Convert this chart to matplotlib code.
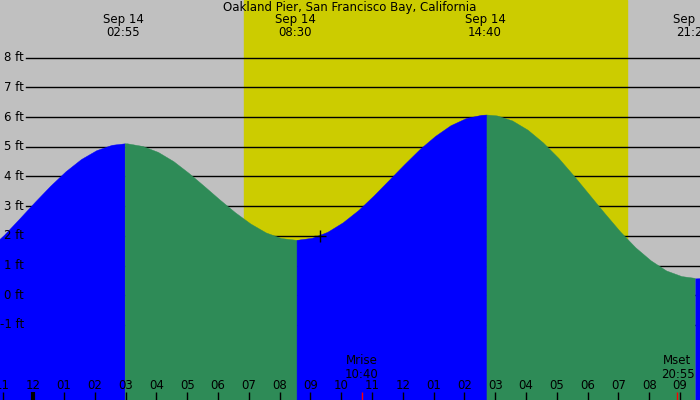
import numpy as np
import matplotlib
matplotlib.use('Agg')
import matplotlib.pyplot as plt

# tide heights (hours from midnight Sep 14, feet)
hours = [-1.2, -1.0, -0.5, 0.0, 0.5, 1.0, 1.5, 2.0, 2.5, 2.917,
         3.0, 3.5, 4.0, 4.5, 5.0, 5.5, 6.0, 6.5, 7.0, 7.5, 8.0, 8.5,
         9.0, 9.5, 10.0, 10.5, 11.0, 11.5, 12.0, 12.5, 13.0, 13.5, 14.0, 14.5, 14.667,
         15.0, 15.5, 16.0, 16.5, 17.0, 17.5, 18.0, 18.5, 19.0, 19.5, 20.0, 20.5, 21.0, 21.433,
         21.7]
heights = [1.83, 2.02, 2.57, 3.13, 3.67, 4.16, 4.57, 4.87, 5.05, 5.10,
           5.10, 5.01, 4.81, 4.50, 4.10, 3.66, 3.21, 2.78, 2.40, 2.10, 1.91, 1.85,
           1.92, 2.12, 2.44, 2.85, 3.34, 3.87, 4.40, 4.91, 5.35, 5.71, 5.95, 6.06, 6.07,
           6.04, 5.87, 5.56, 5.13, 4.61, 4.01, 3.38, 2.75, 2.14, 1.60, 1.16, 0.82, 0.63, 0.57,
           0.58]

extreme_times = [2.917, 8.5, 14.667, 21.433]
extreme_labels = ['02:55', '08:30', '14:40', '21:26']
sunrise, sunset = 6.84, 19.28
moon_times = [10.667, 20.917]
moon_labels = ['Mrise\n10:40', 'Mset\n20:55']
levels = [-1, 0, 1, 2, 3, 4, 5, 6, 7, 8]
hour_ticks = list(range(-1, 22))
now_time, now_height = 9.32, 2.0

title = 'Oakland Pier, San Francisco Bay, California'

W, H = 700, 400
x0, pxh = 33.3, 30.795      # pixel of midnight, pixels per hour
y0, pxf = 295.3, 29.7       # pixel of 0 ft, pixels per foot
shift = 2 / pxh             # the filled curve sits ~2px right of the labels

fig = plt.figure(figsize=(7, 4), dpi=100)
ax = fig.add_axes([0, 0, 1, 1])
ax.set_xlim(-x0 / pxh, (W - x0) / pxh)
ax.set_ylim((y0 - H) / pxf, y0 / pxf)
ax.axis('off')

# night / day background
ax.axvspan(-5, 30, color='#c0c0c0', zorder=0)
ax.axvspan(sunrise, sunset, color='#cccc00', zorder=0)

# grid lines
for lv in levels:
    ax.axhline(lv, xmin=26 / W, xmax=1, color='black', lw=1, zorder=1)

# tide fill, blue when rising, green when falling
t = np.array(hours)
h = np.array(heights)
bounds = [hours[0]] + extreme_times + [hours[-1]]
for a, b in zip(bounds[:-1], bounds[1:]):
    m = (t >= a) & (t <= b)
    rising = h[m][-1] > h[m][0]
    c = '#0000ff' if rising else '#2e8b57'
    ax.fill_between(t[m] + shift, h[m], -10, facecolor=c, edgecolor=c, lw=0.3, zorder=2)

ax.plot([now_time], [now_height], marker='+', color='black', ms=8, mew=1, zorder=4)

fs = 8.5
for lv in levels:
    ax.text((24 - x0) / pxh, lv, f'{lv} ft', ha='right', va='center',
            fontsize=fs, color='black', zorder=5)

xt = ax.get_xaxis_transform()
for et, lab in zip(extreme_times, extreme_labels):
    ax.text(et, 1 - 20 / H, 'Sep 14', ha='center', va='center', fontsize=fs, transform=xt)
    ax.text(et, 1 - 32 / H, lab, ha='center', va='center', fontsize=fs, transform=xt)

ax.text(0.5, 1 - 7.5 / H, title, ha='center', va='center', fontsize=fs,
        transform=ax.transAxes)

for hr in hour_ticks:
    lab = f'{(hr - 1) % 12 + 1:02d}'
    ax.text(hr, 1 - 385.5 / H, lab, ha='center', va='center', fontsize=fs,
            transform=xt, zorder=5)
    ax.vlines(hr, 0, 8 / H, color='black', lw=3 if hr == 0 else 1,
              transform=xt, zorder=5)

for mt, lab in zip(moon_times, moon_labels):
    ax.vlines(mt, 0, 8 / H, color='red', lw=1, transform=xt, zorder=5)
    ax.text(mt, 1 - 367.5 / H, lab, ha='center', va='center', fontsize=fs,
            transform=xt, linespacing=1.0, zorder=5)

fig.savefig('out.png', dpi=100)
